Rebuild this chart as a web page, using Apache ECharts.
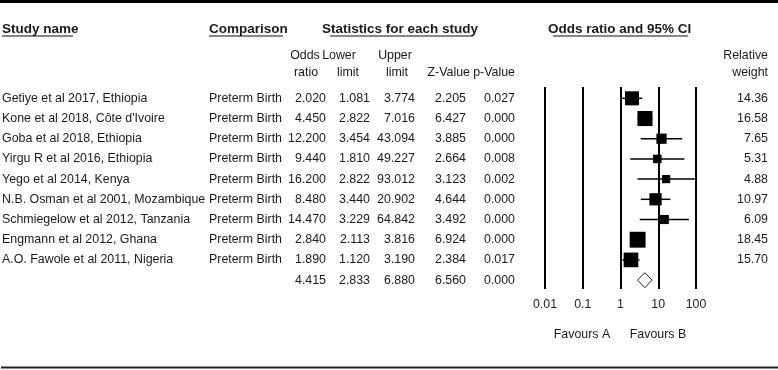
<!DOCTYPE html>
<html>
<head>
<meta charset="utf-8">
<script src="https://cdn.jsdelivr.net/npm/echarts@6/dist/echarts.min.js"></script>
<style>
html, body { margin: 0; padding: 0; background: #fff; }
#container { width: 778px; height: 370px; }
</style>
</head>
<body>
<div id="container"></div>
<script>
var studies = ['Getiye et al 2017, Ethiopia', "Kone et al 2018, Côte d'Ivoire", 'Goba et al 2018, Ethiopia',
    'Yirgu R et al 2016, Ethiopia', 'Yego et al 2014, Kenya', 'N.B. Osman et al 2001, Mozambique',
    'Schmiegelow et al 2012, Tanzania', 'Engmann et al 2012, Ghana', 'A.O. Fawole et al 2011, Nigeria'];
var comparison = ['Preterm Birth', 'Preterm Birth', 'Preterm Birth', 'Preterm Birth', 'Preterm Birth',
    'Preterm Birth', 'Preterm Birth', 'Preterm Birth', 'Preterm Birth'];
var oddsRatio = [2.020, 4.450, 12.200, 9.440, 16.200, 8.480, 14.470, 2.840, 1.890];
var lowerLimit = [1.081, 2.822, 3.454, 1.810, 2.822, 3.440, 3.229, 2.113, 1.120];
var upperLimit = [3.774, 7.016, 43.094, 49.227, 93.012, 20.902, 64.842, 3.816, 3.190];
var zValue = [2.205, 6.427, 3.885, 2.664, 3.123, 4.644, 3.492, 6.924, 2.384];
var pValue = [0.027, 0.000, 0.000, 0.008, 0.002, 0.000, 0.000, 0.000, 0.017];
var relWeight = [14.36, 16.58, 7.65, 5.31, 4.88, 10.97, 6.09, 18.45, 15.70];
// summary: odds ratio, lower, upper, z, p
var summaryStats = [4.415, 2.833, 6.880, 6.560, 0.000];
var axisTicks = [0.01, 0.1, 1, 10, 100];

var FONT = '"Liberation Sans", Arial, sans-serif';
var dom = document.getElementById('container');
var myChart = echarts.init(dom);

// one data item per row: [x anchor, row index]
var rowData = [];
for (var i = 0; i <= studies.length; i++) rowData.push([1, i]);

var ciData = [];
for (var i = 0; i < studies.length; i++) {
    ciData.push([oddsRatio[i], i, lowerLimit[i], upperLimit[i], relWeight[i]]);
}
ciData.push([summaryStats[0], studies.length, summaryStats[1], summaryStats[2], -1]);

function clampLog(v) {
    return Math.min(axisTicks[axisTicks.length - 1], Math.max(axisTicks[0], v));
}

function txt(s, x, y, align, bold, size) {
    return {
        type: 'text',
        style: {
            text: s, x: x, y: y, align: align, verticalAlign: 'middle',
            fontFamily: FONT, fontSize: size || 12.4, fontWeight: bold ? 'bold' : 'normal', fill: '#1a1a1a'
        }
    };
}

function hline(x1, x2, y, w) {
    return { type: 'line', shape: { x1: x1, y1: y, x2: x2, y2: y }, style: { stroke: '#111', lineWidth: w || 1 } };
}

option = {
    animation: false,
    backgroundColor: '#fff',
    grid: { left: 545, top: 87, width: 151, height: 202 },
    xAxis: {
        type: 'log',
        logBase: 10,
        min: 0.01,
        max: 100,
        axisLine: { show: false },
        axisTick: { show: false },
        splitLine: { show: true, lineStyle: { color: '#000', width: 2 } },
        axisLabel: {
            margin: 10,
            fontFamily: FONT,
            fontSize: 12.4,
            color: '#222',
            formatter: function (v) { return String(+(+v).toPrecision(3)); }
        }
    },
    yAxis: {
        type: 'value',
        inverse: true,
        min: -0.56,
        max: 9.44,
        show: false
    },
    graphic: [
        { type: 'rect', shape: { x: 0, y: 0, width: 778, height: 3 }, style: { fill: '#000' } },
        { type: 'rect', shape: { x: 1, y: 366.5, width: 777, height: 2 }, style: { fill: '#222' } },
        txt('Study name', 2, 29, 'left', true, 13.5),
        hline(2, 73, 36),
        txt('Comparison', 209, 29, 'left', true, 13.5),
        hline(209, 283, 36),
        txt('Statistics for each study', 322, 29, 'left', true, 13.5),
        hline(330, 473, 36),
        txt('Odds ratio and 95% CI', 548, 29, 'left', true, 13.5),
        hline(553, 688, 36),
        txt('Odds', 305, 56, 'center'),
        txt('ratio', 306, 73, 'center'),
        txt('Lower', 339, 56, 'center'),
        txt('limit', 348, 73, 'center'),
        txt('Upper', 395, 56, 'center'),
        txt('limit', 397, 73, 'center'),
        txt('Z-Value', 470, 73, 'right'),
        txt('p-Value', 515, 73, 'right'),
        txt('Relative', 768, 56, 'right'),
        txt('weight', 768, 73, 'right'),
        txt('Favours A', 582, 335, 'center'),
        txt('Favours B', 658, 335, 'center')
    ],
    series: [
        {
            type: 'custom',
            clip: false,
            data: rowData,
            encode: { x: 0, y: 1 },
            renderItem: function (params, api) {
                var row = api.value(1);
                var y = api.coord([1, row])[1];
                var kids = [];
                if (row < studies.length) {
                    kids.push(txt(studies[row], 2, y, 'left'));
                    kids.push(txt(comparison[row], 209, y, 'left'));
                    kids.push(txt(oddsRatio[row].toFixed(3), 326, y, 'right'));
                    kids.push(txt(lowerLimit[row].toFixed(3), 370, y, 'right'));
                    kids.push(txt(upperLimit[row].toFixed(3), 415, y, 'right'));
                    kids.push(txt(zValue[row].toFixed(3), 466, y, 'right'));
                    kids.push(txt(pValue[row].toFixed(3), 515, y, 'right'));
                    kids.push(txt(relWeight[row].toFixed(2), 768, y, 'right'));
                } else {
                    kids.push(txt(summaryStats[0].toFixed(3), 326, y, 'right'));
                    kids.push(txt(summaryStats[1].toFixed(3), 370, y, 'right'));
                    kids.push(txt(summaryStats[2].toFixed(3), 415, y, 'right'));
                    kids.push(txt(summaryStats[3].toFixed(3), 466, y, 'right'));
                    kids.push(txt(summaryStats[4].toFixed(3), 515, y, 'right'));
                }
                return { type: 'group', children: kids };
            }
        },
        {
            type: 'custom',
            clip: false,
            data: ciData,
            encode: { x: 0, y: 1 },
            renderItem: function (params, api) {
                var row = api.value(1);
                var c = api.coord([api.value(0), row]);
                var lo = api.coord([clampLog(api.value(2)), row]);
                var hi = api.coord([clampLog(api.value(3)), row]);
                var w = api.value(4);
                if (w < 0) {
                    var h = 7.5;
                    return {
                        type: 'polygon',
                        shape: { points: [[lo[0], c[1]], [c[0], c[1] - h], [hi[0], c[1]], [c[0], c[1] + h]] },
                        style: { fill: '#fff', stroke: '#222', lineWidth: 1 }
                    };
                }
                var s = 3.7 * Math.sqrt(w);
                return {
                    type: 'group',
                    children: [
                        { type: 'line', shape: { x1: lo[0], y1: c[1], x2: hi[0], y2: c[1] }, style: { stroke: '#000', lineWidth: 1.5 } },
                        { type: 'rect', shape: { x: c[0] - s / 2, y: c[1] - s / 2, width: s, height: s }, style: { fill: '#000' } }
                    ]
                };
            }
        }
    ]
};
if (option && typeof option === "object") {
    myChart.setOption(option, true);
}
</script>
</body>
</html>
